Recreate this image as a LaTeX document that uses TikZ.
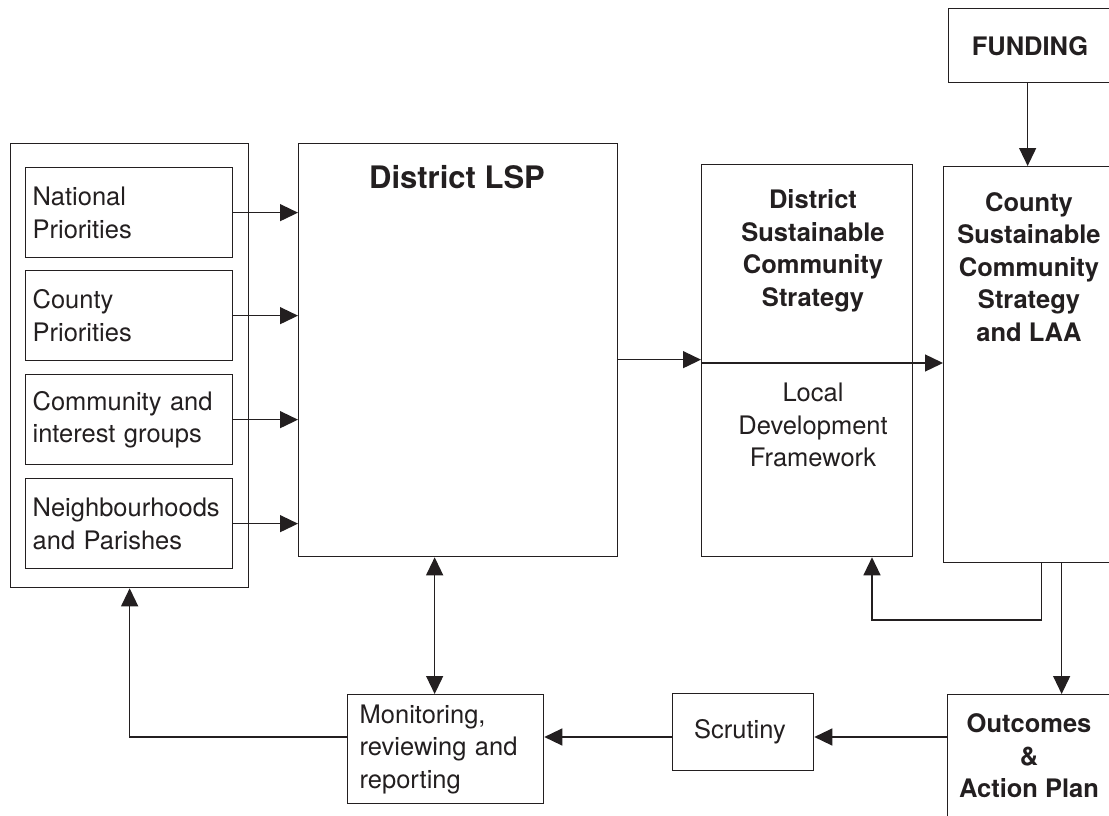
\documentclass[tikz,border=0pt]{standalone}
\usepackage{fontspec}
\setmainfont{TeX Gyre Heros}
\usetikzlibrary{arrows.meta}
\usetikzlibrary{calc}
\definecolor{ink}{RGB}{35,31,32}
\tikzset{
  box/.style= {draw=ink, text=ink, line width=1.3pt, anchor=north west, inner sep=0},
  src/.style= {box, text width=193pt, inner xsep=7pt, minimum height=90pt, align=left, font=\fontsize{25.5}{32.5}\selectfont},
  txt/.style= {text=ink, align=center, font=\fontsize{25.5}{32.5}\selectfont},
  btxt/.style= {txt, font=\fontsize{25.5}{32.5}\selectfont\bfseries},
  arr/.style= {draw=ink, line width=1.3pt, -{Triangle[length=18pt,width=17pt]}},
  arr2/.style= {draw=ink, line width=1.3pt, {Triangle[length=18pt,width=17pt]}-{Triangle[length=18pt,width=17pt]}},
}

\begin{document}
\begin{tikzpicture}[x=1pt, y=-1pt]
  \useasboundingbox (0,0) rectangle (1109,816);
  \clip (0,0) rectangle (1109,816);

  % left group of inputs
  \node [box, minimum width=238pt, minimum height=444pt] (grp) at (10,143) {};
  \node [src] (nat) at (25,167) {National\\Priorities};
  \node [src] (cty) at (25,270) {County\\Priorities};
  \node [src] (com) at (25,374) {Community and\\interest groups};
  \node [src] (nbh) at (25,478) {Neighbourhoods\\and Parishes};

  % main boxes
  \node [box, minimum width=319pt, minimum height=413pt] (lsp) at (298,143) {};
  \node [btxt, font=\fontsize{31}{36}\selectfont\bfseries] (lsptxt) at (457,177) {District LSP};
  \node [box, minimum width=211pt, minimum height=392pt] (dscs) at (701,164) {};
  \node [btxt] (dscstxt) at (813,251) {District\\Sustainable\\Community\\Strategy};
  \node [txt] (ldf) at (813,425) {Local\\Development\\Framework};
  \node [box, minimum width=170pt, minimum height=74pt] (fund) at (948,8) {};
  \node [btxt] (fundtxt) at (1030,46) {FUNDING};
  \node [box, minimum width=173pt, minimum height=396pt] (county) at (943,166) {};
  \node [btxt] (countytxt) at (1029,267) {County\\Sustainable\\Community\\Strategy\\and LAA};

  % bottom row
  \node [box, minimum width=170pt, minimum height=140pt] (outc) at (947,694) {};
  \node [btxt] (outctxt) at (1029,756) {Outcomes\\\&\\Action Plan};
  \node [box, minimum width=141pt, minimum height=77pt] (scr) at (672,693) {};
  \node [txt] (scrtxt) at (740,732) {Scrutiny};
  \node [box, text width=172pt, inner xsep=12pt, minimum height=109pt, align=left,
         font=\fontsize{25.5}{32.5}\selectfont] (mon) at (347,694) {Monitoring,\\reviewing and\\reporting};

  % connectors
  \foreach \n in {nat,cty,com,nbh}
    \draw [arr] (\n.east) -- (\n.east -| lsp.west);
  \draw [arr] ([yshift=-9.5pt]lsp.east) -- ([yshift=-9.5pt]lsp.east -| dscs.west);
  \coordinate (split) at (701,363);
  \draw [arr] (split) -- (split -| county.west);
  \draw [arr] ([xshift=-6pt]fund.south) -- ([xshift=-6pt]fund.south |- county.north);
  \draw [arr] ([xshift=31.5pt]county.south) -- ([xshift=31.5pt]county.south |- outc.north);
  \coordinate (fb) at (872,620);
  \draw [arr] ([xshift=11.5pt]county.south) |- (fb) -- (fb |- dscs.south);
  \coordinate (row) at (0,737);
  \draw [arr] (row -| outc.west) -- (row -| scr.east);
  \draw [arr] (row -| scr.west) -- (row -| mon.east);
  \draw [arr] (row -| mon.west) -| (grp.south);
  \draw [arr2] ([xshift=-23.5pt]lsp.south) -- ([xshift=-23.5pt]lsp.south |- mon.north);
\end{tikzpicture}
\end{document}
